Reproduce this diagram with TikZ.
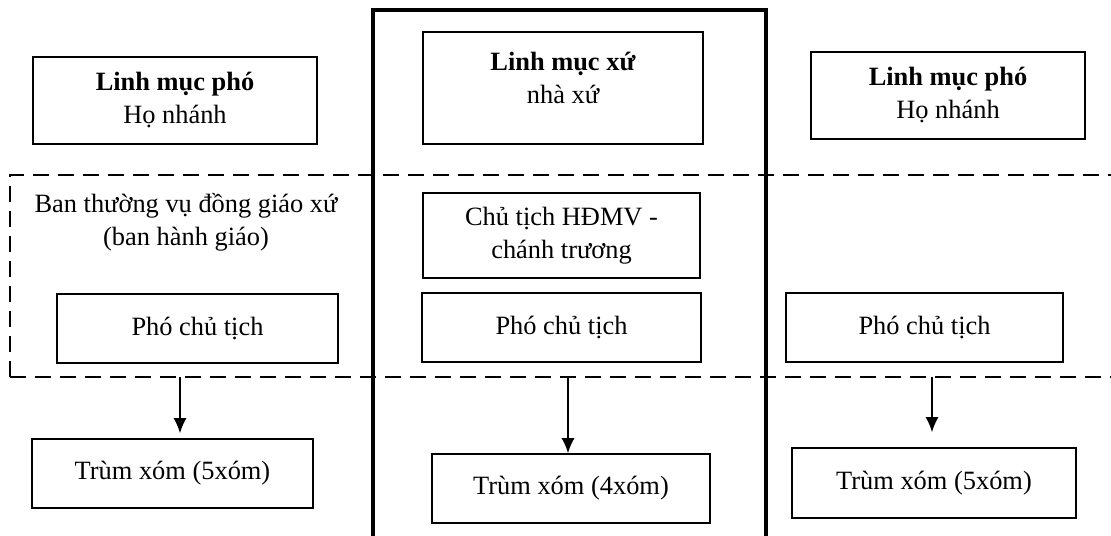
\documentclass[tikz,border=0pt]{standalone}
\usepackage{fontspec}
\setmainfont{Liberation Serif}
\usetikzlibrary{arrows.meta}

\begin{document}
\begin{tikzpicture}[x=0.5pt, y=0.5pt, >={Latex[length=7.5pt,width=6.5pt]},
  font=\fontsize{13.2}{16.5}\selectfont,
  box/.style={draw, line width=0.8pt, align=center, inner sep=0pt, minimum height=34.5pt},
  sep/.style={dashed, line width=0.8pt, dash pattern=on 8pt off 4.5pt}]
  \useasboundingbox (0,0) rectangle (1111,535);

  % khung giua
  \draw[line width=2pt] (373,-5) -- (373,525) -- (766,525) -- (766,-5);

  % hai duong ngan cach
  \draw[sep] (10,158) -- (10,360) -- (1111,360);
  \draw[sep] (10,158) -- (1111,158);

  \node[box, minimum width=142pt, minimum height=43.5pt] (lmpL) at (175,434.5) {\textbf{Linh mục phó}\\Họ nhánh};
  \node[box, minimum width=140pt, minimum height=56pt] (lmx) at (563,447) {};
  \node[align=center, yshift=5pt] (lmxt) at (lmx.center) {\textbf{Linh mục xứ}\\nhà xứ};
  \node[box, minimum width=137pt, minimum height=43.5pt] (lmpR) at (948,439.5) {\textbf{Linh mục phó}\\Họ nhánh};

  \node[align=center] (btv) at (186,313) {Ban thường vụ đồng giáo xứ\\(ban hành giáo)};
  \node[box, minimum width=138.5pt, minimum height=42.5pt] (ct) at (561.5,299.5) {Chủ tịch HĐMV -\\chánh trương};

  \node[box, minimum width=140.5pt] (pctL) at (197.5,206.5) {Phó chủ tịch};
  \node[box, minimum width=139.5pt] (pctC) at (561.5,207.5) {Phó chủ tịch};
  \node[box, minimum width=138.5pt] (pctR) at (924.5,207.5) {Phó chủ tịch};

  \node[box, minimum width=140.5pt] (tx1) at (172.5,61.5) {Trùm xóm (5xóm)};
  \node[box, minimum width=139pt] (tx2) at (571,46.5) {Trùm xóm (4xóm)};
  \node[box, minimum width=142pt, minimum height=35pt] (tx3) at (934,52) {Trùm xóm (5xóm)};

  \coordinate (d1) at (180,158);
  \coordinate (d2) at (568,158);
  \coordinate (d3) at (932,158);
  \draw[->, line width=0.8pt, shorten >=2.5pt] (d1) -- (d1 |- tx1.north);
  \draw[->, line width=0.8pt] (d2) -- (d2 |- tx2.north);
  \draw[->, line width=0.8pt, shorten >=7.5pt] (d3) -- (d3 |- tx3.north);
\end{tikzpicture}
\end{document}
